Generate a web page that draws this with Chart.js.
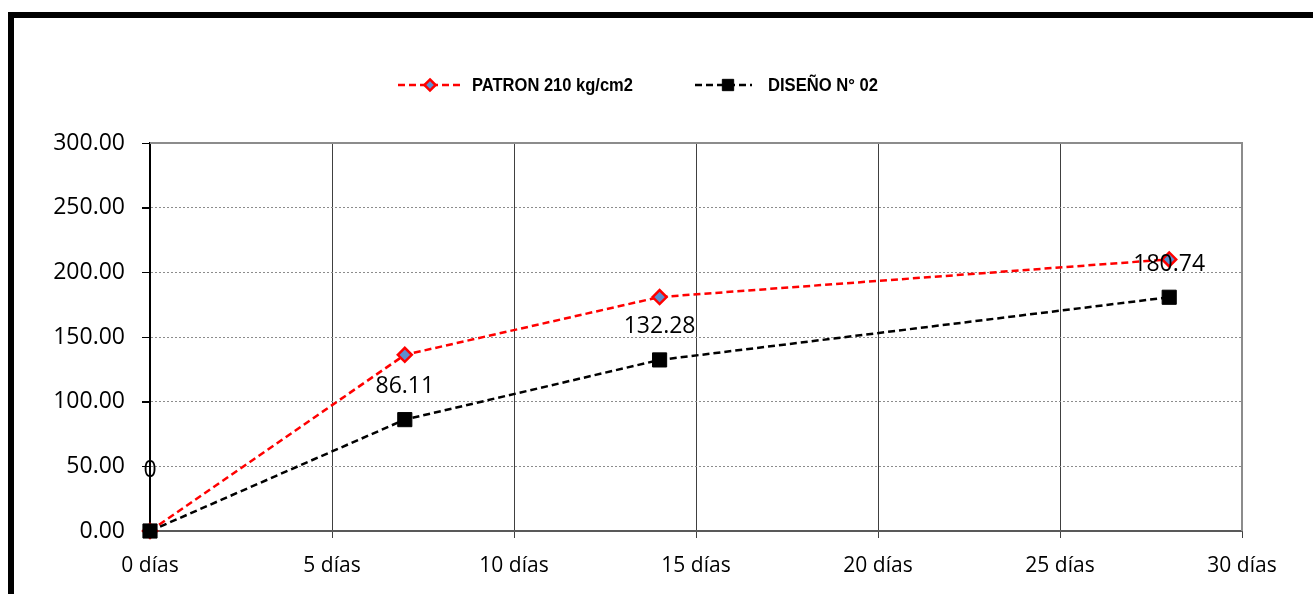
<!DOCTYPE html>
<html>
<head>
<meta charset="utf-8">
<script src="https://cdn.jsdelivr.net/npm/chart.js@4/dist/chart.umd.min.js"></script>
<style>
  html, body { margin: 0; padding: 0; background: #fff; overflow: hidden; }
  #wrap { position: relative; width: 1313px; height: 594px; }
  #frame { position: absolute; left: 8px; top: 12px; right: -20px; bottom: -20px;
           border-left: 6px solid #000; border-top: 6px solid #000; }
  canvas { position: absolute; left: 0; top: 0; }
</style>
</head>
<body>
<div id="wrap">
  <div id="frame"></div>
  <canvas id="chart" width="1313" height="594"></canvas>
</div>
<script>
// edad del concreto (días) y resistencia (kg/cm2)
const dias = [0, 7, 14, 28];
const patron = [0, 136.2, 180.9, 210.0];
const diseno = [0, 86.11, 132.28, 180.74];
const nombres = ['PATRON 210 kg/cm2', 'DISEÑO N° 02'];

const fuente = "'Open Sans', 'Noto Sans', sans-serif";
const fuenteLeyenda = "'Liberation Sans Narrow', 'Arial Narrow', 'Liberation Sans', sans-serif";

const toXY = (vals) => vals.map((v, i) => ({ x: dias[i], y: v }));

function marcador(ctx, ds, cx, cy, escala) {
    ctx.save();
    ctx.fillStyle = ds.pointBackgroundColor;
    ctx.strokeStyle = ds.pointBorderColor;
    ctx.lineWidth = ds.pointBorderWidth;
    ctx.setLineDash([]);
    ctx.beginPath();
    if (ds.pointStyle === 'rectRot') {
        const r = ds.pointRadius * escala;
        ctx.moveTo(cx, cy - r);
        ctx.lineTo(cx + r, cy);
        ctx.lineTo(cx, cy + r);
        ctx.lineTo(cx - r, cy);
        ctx.closePath();
    } else {
        const r = ds.pointRadius * Math.SQRT1_2 * escala;
        ctx.rect(cx - r, cy - r, 2 * r, 2 * r);
    }
    ctx.fill();
    ctx.stroke();
    ctx.restore();
}

// leyenda dibujada a mano: linea discontinua con marcador al centro
const leyendaPlugin = {
    id: 'leyenda',
    afterDraw(chart) {
        const ctx = chart.ctx;
        const y = 85;
        const items = [
            { x0: 398, x1: 460, mx: 430, tx: 472, w: 161 },
            { x0: 695, x1: 752, mx: 728, tx: 768, w: 110 }
        ];
        ctx.save();
        ctx.font = 'bold 19px ' + fuenteLeyenda;
        chart.data.datasets.forEach((ds, i) => {
            const it = items[i];
            ctx.strokeStyle = ds.borderColor;
            ctx.lineWidth = 2.5;
            ctx.setLineDash([7, 4]);
            ctx.beginPath();
            ctx.moveTo(it.x0, y);
            ctx.lineTo(it.x1, y);
            ctx.stroke();
            ctx.setLineDash([]);
            marcador(ctx, ds, it.mx, y, 0.8);
            ctx.fillStyle = '#000';
            ctx.textAlign = 'left';
            ctx.textBaseline = 'middle';
            ctx.fillText(nombres[i], it.tx, y + 1, it.w);
        });
        ctx.restore();
    }
};

// bordes del area de trazado, marcas del eje y etiquetas de datos
const extrasPlugin = {
    id: 'extras',
    beforeDatasetsDraw(chart) {
        const { ctx, chartArea: a, scales } = chart;
        ctx.save();
        ctx.strokeStyle = '#8c8c8c';
        ctx.lineWidth = 2;
        ctx.beginPath();
        ctx.moveTo(a.left, a.top);
        ctx.lineTo(a.right, a.top);
        ctx.lineTo(a.right, a.bottom);
        ctx.stroke();
        ctx.strokeStyle = '#000';
        ctx.lineWidth = 1;
        scales.y.ticks.forEach(t => {
            const yy = Math.round(scales.y.getPixelForValue(t.value)) + 0.5;
            ctx.beginPath();
            ctx.moveTo(a.left - 8, yy);
            ctx.lineTo(a.left, yy);
            ctx.stroke();
        });
        ctx.restore();
    },
    afterDatasetsDraw(chart) {
        const ctx = chart.ctx;
        const meta = chart.getDatasetMeta(1);
        const offsets = [61, 33, 33, 33];
        ctx.save();
        ctx.font = '23px ' + fuente;
        ctx.fillStyle = '#000';
        ctx.textAlign = 'center';
        ctx.textBaseline = 'middle';
        meta.data.forEach((pt, i) => {
            const v = diseno[i];
            const txt = v === 0 ? '0' : v.toFixed(2);
            ctx.fillText(txt, pt.x, pt.y - offsets[i]);
        });
        ctx.restore();
    }
};

const config = {
    type: 'line',
    data: {
        datasets: [{
            label: nombres[0],
            data: toXY(patron),
            borderColor: '#ff0000',
            borderWidth: 2.5,
            borderDash: [7, 4],
            pointStyle: 'rectRot',
            pointRadius: 7,
            pointBorderWidth: 2.5,
            pointBackgroundColor: '#5b8fd0',
            pointBorderColor: '#ff0000',
            fill: false,
            clip: false,
            order: 1,
            tension: 0
        }, {
            label: nombres[1],
            data: toXY(diseno),
            borderColor: '#000000',
            borderWidth: 2.5,
            borderDash: [7, 4],
            pointStyle: 'rect',
            pointRadius: 10,
            pointBorderWidth: 1,
            pointBackgroundColor: '#000000',
            pointBorderColor: '#000000',
            fill: false,
            clip: false,
            order: 0,
            tension: 0
        }]
    },
    options: {
        responsive: false,
        animation: false,
        layout: { padding: { left: 0, right: 71, top: 143, bottom: 0 } },
        plugins: {
            legend: { display: false },
            tooltip: { enabled: false }
        },
        scales: {
            x: {
                type: 'linear',
                min: 0,
                max: 30,
                ticks: {
                    stepSize: 5,
                    color: '#000',
                    padding: 15,
                    font: { family: fuente, size: 21 },
                    callback: v => v + ' días',
                    maxRotation: 0
                },
                grid: {
                    color: '#404040',
                    lineWidth: 1,
                    tickLength: 7,
                    tickColor: '#404040'
                },
                border: { color: '#595959', width: 2 },
                afterFit: s => { s.height = 63; }
            },
            y: {
                min: 0,
                max: 300,
                ticks: {
                    stepSize: 50,
                    color: '#000',
                    padding: 17,
                    font: { family: fuente, size: 23 },
                    callback: v => v.toFixed(2)
                },
                grid: {
                    color: '#8c8c8c',
                    lineWidth: 1,
                    tickLength: 8,
                    tickColor: '#000',
                    tickBorderDash: []
                },
                border: { color: '#000', width: 2, dash: [2, 2] },
                afterFit: s => { s.width = 150; }
            }
        }
    },
    plugins: [extrasPlugin, leyendaPlugin]
};

const grafico = new Chart(document.getElementById('chart'), config);
</script>
</body>
</html>
